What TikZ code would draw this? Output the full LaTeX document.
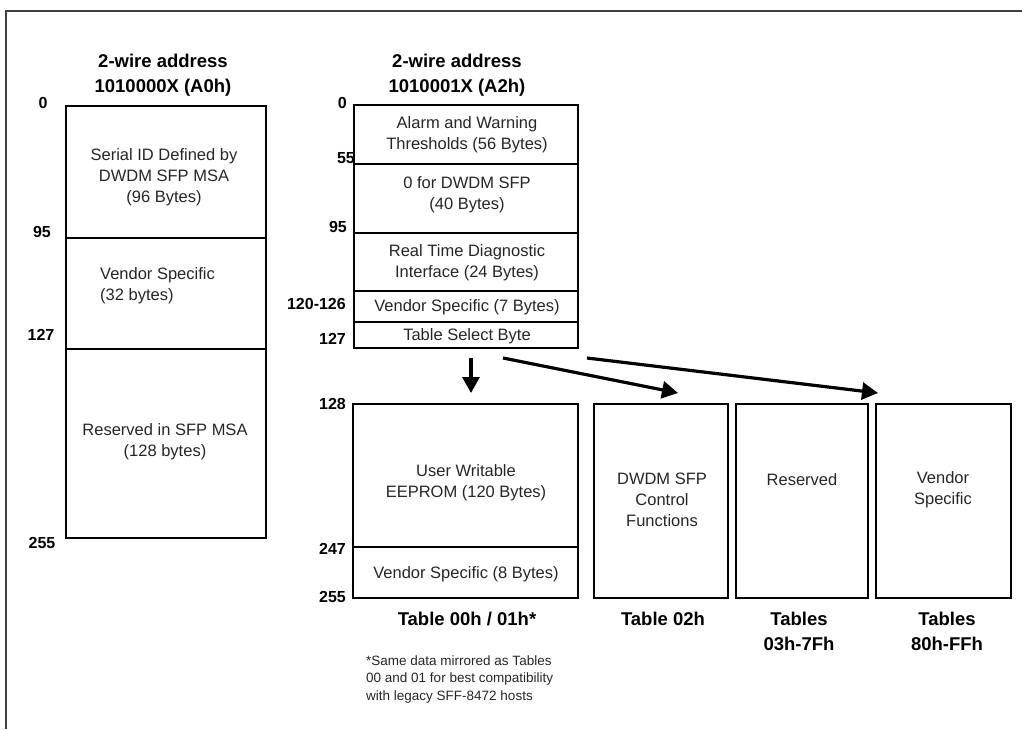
\documentclass[tikz,border=0pt]{standalone}
\usepackage{fontspec}
\setmainfont{Liberation Sans}
\usetikzlibrary{arrows.meta}
\begin{document}
\begin{tikzpicture}[x=1pt,y=-1pt,
  box/.style={draw=black,line width=2.8pt,rectangle,inner sep=0pt,outer sep=0pt,anchor=north west},
  txt/.style={inner sep=0pt,align=center,text=black!85,font=\fontsize{16.5}{21}\selectfont},
  foot/.style={inner sep=0pt,align=left,text=black!85,font=\fontsize{13.5}{17.5}\selectfont},
  num/.style={inner sep=0pt,font=\bfseries\fontsize{16}{18}\selectfont},
  ttl/.style={inner sep=0pt,align=center,font=\bfseries\fontsize{18.5}{25}\selectfont},
  arr/.style={line width=3.2pt,-{Triangle[length=16pt,width=17pt]}},
  frame/.style={line width=2pt,black!75}
]
\useasboundingbox (0,0) rectangle (1022,729);
\draw[frame] (6,729) -- (6,11) -- (1022,11);

% ---- A0h column
\node[ttl] (ttlA0) at (163,75.5) {2-wire address\\1010000X (A0h)};
\node[box,minimum width=200pt,minimum height=132pt] (a0s1) at (66,106) {};
\node[box,minimum width=200pt,minimum height=111pt] (a0s2) at (66,238) {};
\node[box,minimum width=200pt,minimum height=189pt] (a0s3) at (66,349) {};
\node[txt] (ta0s1) at (164,177) {Serial ID Defined by\\DWDM SFP MSA\\(96 Bytes)};
\node[txt,align=left,anchor=west] (ta0s2) at (100,286) {Vendor Specific\\(32 bytes)};
\node[txt] (ta0s3) at (165,442) {Reserved in SFP MSA\\(128 bytes)};
\node[num] (na0) at (43,103) {0};
\node[num] (na95) at (42,232) {95};
\node[num] (na127) at (41,335) {127};
\node[num] (na255) at (42,543) {255};

% ---- A2h column
\node[ttl] (ttlA2) at (457,75.5) {2-wire address\\1010001X (A2h)};
\node[box,minimum width=224pt,minimum height=59pt] (a2s1) at (354,105) {};
\node[box,minimum width=224pt,minimum height=69pt] (a2s2) at (354,164) {};
\node[box,minimum width=224pt,minimum height=58pt] (a2s3) at (354,233) {};
\node[box,minimum width=224pt,minimum height=31pt] (a2s4) at (354,291) {};
\node[box,minimum width=224pt,minimum height=26pt] (a2s5) at (354,322) {};
\node[txt] (ta2s1) at (467,134.5) {Alarm and Warning\\Thresholds (56 Bytes)};
\node[txt] (ta2s2) at (467,195) {0 for DWDM SFP\\(40 Bytes)};
\node[txt] (ta2s3) at (467,263) {Real Time Diagnostic\\Interface (24 Bytes)};
\node[txt] (ta2s4) at (467,307) {Vendor Specific (7 Bytes)};
\node[txt] (ta2s5) at (467,336) {Table Select Byte};
\node[num,anchor=east] (nb0) at (347,103) {0};
\node[num,anchor=east] (nb55) at (355,158) {55};
\node[num,anchor=east] (nb95) at (347,227) {95};
\node[num,anchor=east] (nb120) at (346,304) {120-126};
\node[num,anchor=east] (nb127) at (346,339) {127};

% ---- Tables
\node[box,minimum width=225pt,minimum height=143pt] (t0a) at (353,404) {};
\node[box,minimum width=225pt,minimum height=51pt] (t0b) at (353,547) {};
\node[box,minimum width=134pt,minimum height=194pt] (t2) at (594,404) {};
\node[box,minimum width=132pt,minimum height=194pt] (t3) at (736,404) {};
\node[box,minimum width=135pt,minimum height=194pt] (t4) at (876,404) {};
\node[txt] (tt0a) at (466,483) {User Writable\\EEPROM (120 Bytes)};
\node[txt] (tt0b) at (466,574) {Vendor Specific (8 Bytes)};
\node[txt] (tt2) at (662,500) {DWDM SFP\\Control\\Functions};
\node[txt] (tt3) at (802,480) {Reserved};
\node[txt] (tt4) at (943,490) {Vendor\\Specific};
\node[num,anchor=east] (nc128) at (346,404) {128};
\node[num,anchor=east] (nc247) at (346,549) {247};
\node[num,anchor=east] (nc255) at (346,597) {255};
\node[ttl] (lt0) at (467,619) {Table 00h / 01h*};
\node[ttl] (lt2) at (663,619) {Table 02h};
\node[ttl] (lt3) at (799,631) {Tables\\03h-7Fh};
\node[ttl] (lt4) at (947,631) {Tables\\80h-FFh};
\node[foot,anchor=west] (fn) at (366,679) {*Same data mirrored as Tables\\00 and 01 for best compatibility\\with legacy SFF-8472 hosts};

% ---- arrows
\coordinate (s1) at (471,358);
\coordinate (e1) at (471,393);
\coordinate (s2) at (503,358);
\coordinate (e2) at (678,393);
\coordinate (s3) at (587,358);
\coordinate (e3) at (878,393);
\draw[arr] (s1) -- (e1);
\draw[arr] (s2) -- (e2);
\draw[arr] (s3) -- (e3);
\end{tikzpicture}
\end{document}
